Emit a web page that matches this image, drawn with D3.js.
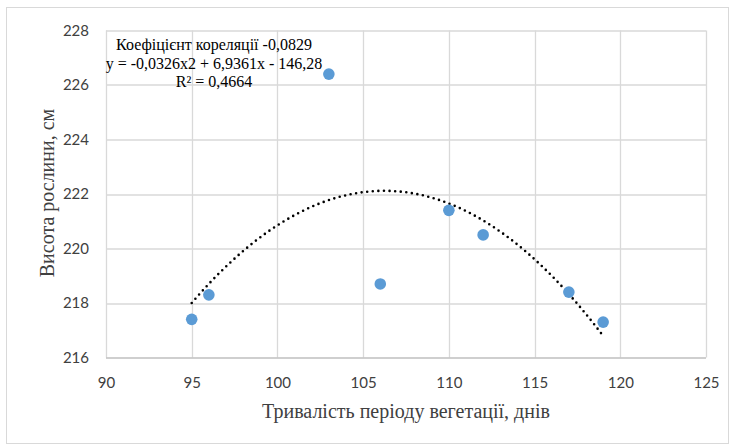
<!DOCTYPE html>
<html>
<head>
<meta charset="utf-8">
<script src="https://cdn.jsdelivr.net/npm/d3@7.9.0/dist/d3.min.js"></script>
<style>
  body { margin: 0; background: #fff; }
</style>
</head>
<body>
<div id="chart"></div>
<script>
"use strict";

// growing period, days
const days = [95, 96, 103, 106, 110, 112, 117, 119];
// plant height, cm
const heights = [217.4, 218.3, 226.4, 218.7, 221.4, 220.5, 218.4, 217.3];

const x_ticks = [90, 95, 100, 105, 110, 115, 120, 125];
const y_ticks = [216, 218, 220, 222, 224, 226, 228];

const note_lines = [
    "Коефіцієнт кореляції -0,0829",
    "y = -0,0326x2 + 6,9361x - 146,28",
    "R² = 0,4664"
];
const x_title = "Тривалість періоду вегетації, днів";
const y_title = "Висота рослини, см";

// least squares quadratic, same as the excel trendline
function quad_fit(xs, ys) {
    let s = [0, 0, 0, 0, 0], t = [0, 0, 0];
    for (let i = 0; i < xs.length; i++) {
        let p = 1;
        for (let k = 0; k < 5; k++) {
            s[k] += p;
            if (k < 3) t[k] += p * ys[i];
            p *= xs[i];
        }
    }
    // solve 3x3
    let m = [
        [s[0], s[1], s[2], t[0]],
        [s[1], s[2], s[3], t[1]],
        [s[2], s[3], s[4], t[2]]
    ];
    for (let c = 0; c < 3; c++) {
        for (let r = c + 1; r < 3; r++) {
            const f = m[r][c] / m[c][c];
            for (let k = c; k < 4; k++) m[r][k] -= f * m[c][k];
        }
    }
    let a = [0, 0, 0];
    for (let r = 2; r >= 0; r--) {
        let v = m[r][3];
        for (let k = r + 1; k < 3; k++) v -= m[r][k] * a[k];
        a[r] = v / m[r][r];
    }
    return (x) => a[0] + a[1] * x + a[2] * x * x;
}

const W = 732, H = 446;
const margin = { top: 30.5, right: 26, bottom: 88.5, left: 106 };
const width = W - margin.left - margin.right;
const height = H - margin.top - margin.bottom;

const svg = d3.select("#chart").append("svg")
    .attr("width", W)
    .attr("height", H);

// chart border
svg.append("rect")
    .attr("x", 6.5).attr("y", 7.5)
    .attr("width", W - 10).attr("height", H - 10)
    .attr("fill", "none")
    .attr("stroke", "#d9d9d9");

const g = svg.append("g")
    .attr("transform", `translate(${margin.left}, ${margin.top})`);

const x = d3.scaleLinear().domain([90, 125]).range([0, width]);
const y = d3.scaleLinear().domain([216, 228]).range([height, 0]);

// grid
g.selectAll("none")
    .data(x_ticks)
    .join("line")
    .attr("x1", (d) => Math.round(x(d)) + 0.5)
    .attr("x2", (d) => Math.round(x(d)) + 0.5)
    .attr("y1", 0)
    .attr("y2", height)
    .attr("stroke", "#d9d9d9")
    .attr("stroke-width", 1.3);

g.selectAll("none")
    .data(y_ticks)
    .join("line")
    .attr("x1", 0)
    .attr("x2", width)
    .attr("y1", (d) => Math.round(y(d)) + 0.5)
    .attr("y2", (d) => Math.round(y(d)) + 0.5)
    .attr("stroke", (d) => d === 216 ? "#bfbfbf" : "#d9d9d9")
    .attr("stroke-width", 1.3);

// axes labels
const x_axis = g.append("g")
    .attr("transform", `translate(0, ${height})`)
    .call(d3.axisBottom(x).tickValues(x_ticks).tickSize(0).tickPadding(20));
const y_axis = g.append("g")
    .call(d3.axisLeft(y).tickValues(y_ticks).tickSize(0).tickPadding(17));

for (const ax of [x_axis, y_axis]) {
    ax.select(".domain").remove();
    ax.selectAll("text")
        .attr("fill", "#404040")
        .style("font-family", "Lato, 'Open Sans', sans-serif")
        .style("font-size", "15px");
}

// trendline
const fit = quad_fit(days, heights);
const curve_x = d3.range(95, 119.001, 0.25);
const line = d3.line()
    .x((d) => x(d))
    .y((d) => y(fit(d)));

g.append("path")
    .datum(curve_x)
    .attr("d", line)
    .attr("fill", "none")
    .attr("stroke", "#000")
    .attr("stroke-width", 2.6)
    .attr("stroke-linecap", "round")
    .attr("stroke-dasharray", "0 5.6");

// points
g.selectAll("none")
    .data(days)
    .join("circle")
    .attr("cx", (d) => x(d))
    .attr("cy", (d, i) => y(heights[i]))
    .attr("r", 5.8)
    .attr("fill", "#5b9bd5");

// annotation
svg.selectAll("none")
    .data(note_lines)
    .join("text")
    .attr("x", 214)
    .attr("y", (d, i) => 50 + i * 18.5)
    .attr("text-anchor", "middle")
    .style("font-family", "'Liberation Serif', serif")
    .style("font-size", "16px")
    .attr("fill", "#000")
    .text((d) => d);

// titles
svg.append("text")
    .attr("x", margin.left + width / 2)
    .attr("y", 418)
    .attr("text-anchor", "middle")
    .style("font-family", "'Liberation Serif', serif")
    .style("font-size", "20px")
    .attr("fill", "#404040")
    .text(x_title);

svg.append("text")
    .attr("transform", `translate(54, ${193}) rotate(-90)`)
    .attr("text-anchor", "middle")
    .style("font-family", "'Liberation Serif', serif")
    .style("font-size", "20px")
    .attr("fill", "#404040")
    .text(y_title);
</script>
</body>
</html>
